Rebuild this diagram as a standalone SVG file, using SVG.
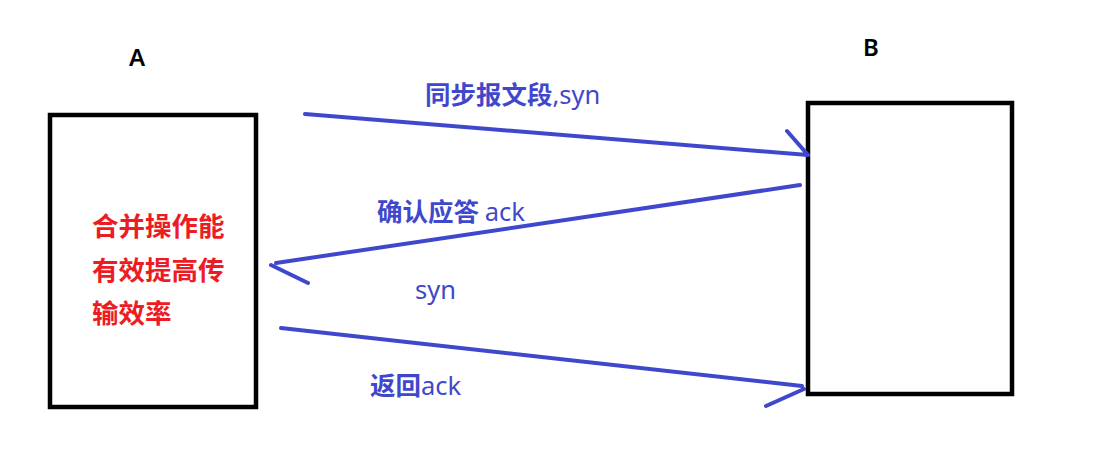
<svg xmlns="http://www.w3.org/2000/svg" width="1112" height="458" viewBox="0 0 1112 458">
<style>
.box{fill:#fff;stroke:#000;stroke-width:4.5}
.lbl{font-family:"Noto Sans","Noto Sans CJK SC",sans-serif;font-size:24px;font-weight:600;fill:#000}
.red{font-family:"Noto Sans CJK SC",sans-serif;font-size:26.5px;font-weight:bold;fill:#ed1c24}
.blue{font-family:"Noto Sans CJK SC","Noto Sans",sans-serif;font-size:25.5px;font-weight:bold;fill:#3f48cc}
.lat{font-family:"Noto Sans",sans-serif;font-weight:normal}
.ln{stroke:#3f48cc;stroke-width:4;stroke-linecap:round;fill:none}
</style>
<rect width="1112" height="458" fill="#fff"/>
<g id="nodeA">
<rect class="box" x="50" y="115" width="206" height="292"/>
<text class="lbl" x="137" y="66" text-anchor="middle">A</text>
<text class="red" x="92" y="236">合并操作能</text>
<text class="red" x="92" y="280">有效提高传</text>
<text class="red" x="92" y="323">输效率</text>
</g>
<g id="nodeB">
<rect class="box" x="808" y="103" width="204" height="291"/>
<text class="lbl" x="871" y="56" text-anchor="middle">B</text>
</g>
<g id="connectors">
<path class="ln" d="M305,114 L808,155 M787,131 L808,155"/>
<path class="ln" d="M800,185 L276,263 M271,265 L308,283"/>
<path class="ln" d="M281,328 L802,386 M804,389 L766,406"/>
<text class="blue" x="425" y="104">同步报文段<tspan class="lat">,syn</tspan></text>
<text class="blue" x="377" y="221">确认应答 <tspan class="lat">ack</tspan></text>
<text class="blue lat" x="415" y="299">syn</text>
<text class="blue" x="370" y="395">返回<tspan class="lat">ack</tspan></text>
</g>
</svg>
